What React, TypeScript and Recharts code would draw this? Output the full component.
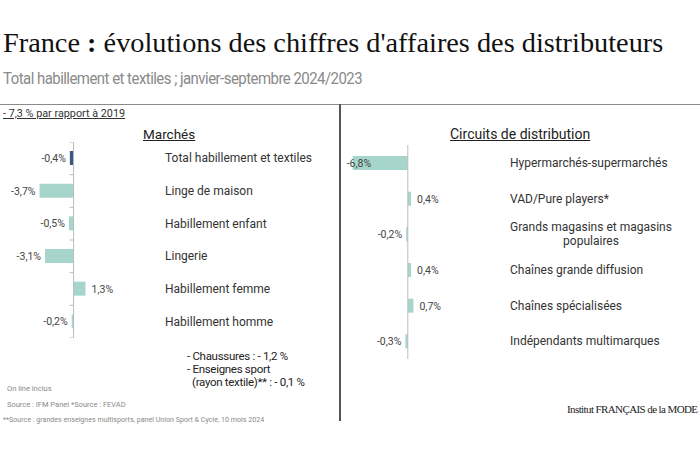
import React from "react";
import { BarChart, Bar, XAxis, YAxis, Cell, LabelList, ReferenceLine } from "recharts";

const marketNames = [
  "Total habillement et textiles",
  "Linge de maison",
  "Habillement enfant",
  "Lingerie",
  "Habillement femme",
  "Habillement homme",
];
const marketValues = [-0.4, -3.7, -0.5, -3.1, 1.3, -0.2];

const channelNames = [
  "Hypermarchés-supermarchés",
  "VAD/Pure players*",
  "Grands magasins et magasins\npopulaires",
  "Chaînes grande diffusion",
  "Chaînes spécialisées",
  "Indépendants multimarques",
];
const channelValues = [-6.8, 0.4, -0.2, 0.4, 0.7, -0.3];

const TEAL = "#a6d6cb";
const NAVY = "#3b5680";
const SANS = "Roboto, 'Noto Sans', sans-serif";

const fmt = (v: number) => `${v.toFixed(1).replace(".", ",")}%`;

const marketData = marketNames.map((name, i) => ({ name, value: marketValues[i] }));
const channelData = channelNames.map((name, i) => ({ name, value: channelValues[i] }));

function CategoryTick({ x, y, payload }: any) {
  const lines = String(payload.value).split("\n");
  if (lines.length > 1) {
    return (
      <text x={x + 78} y={y - 3} textAnchor="middle" fontFamily={SANS} fontSize={12} fill="#333">
        {lines.map((l, i) => (
          <tspan key={i} x={x + 78} dy={i === 0 ? 0 : 14}>{l}</tspan>
        ))}
      </text>
    );
  }
  return (
    <text x={x - 3} y={y + 4} textAnchor="start" fontFamily={SANS} fontSize={12} fill="#333">
      {payload.value}
    </text>
  );
}

function ZeroAxis({ x1, y1, y2, count }: any) {
  const step = count > 0 ? (y2 - y1) / count : 0;
  const ticks = count > 0 ? Array.from({ length: count + 1 }, (_, i) => y1 + i * step) : [];
  return (
    <g>
      <line x1={x1} x2={x1} y1={y1} y2={y2} stroke="#bcbcbc" strokeWidth={1} />
      {ticks.map((t, i) => (
        <line key={i} x1={x1 - 4} x2={x1} y1={t} y2={t} stroke="#bcbcbc" strokeWidth={1} />
      ))}
    </g>
  );
}

function ValueLabel({ x, y, width, height, value }: any) {
  const left = Math.min(x, x + width);
  const right = Math.max(x, x + width);
  const cy = y + height / 2 + 4;
  if (value < -5) {
    return (
      <text x={left - 6} y={cy} textAnchor="start" fontFamily={SANS} fontSize={10.5} fill="#444">
        {fmt(value)}
      </text>
    );
  }
  if (value < 0) {
    return (
      <text x={left - 4} y={cy} textAnchor="end" fontFamily={SANS} fontSize={10.5} fill="#444">
        {fmt(value)}
      </text>
    );
  }
  return (
    <text x={right + 6} y={cy} textAnchor="start" fontFamily={SANS} fontSize={10.5} fill="#444">
      {fmt(value)}
    </text>
  );
}

const abs = (extra: React.CSSProperties): React.CSSProperties => ({
  position: "absolute",
  whiteSpace: "nowrap",
  fontFamily: SANS,
  ...extra,
});

export default function App() {
  return (
    <div style={{ position: "absolute", left: 0, top: 0, width: 700, height: 450, background: "#fff", overflow: "hidden" }}>
      <div style={abs({ left: 3, top: 27, fontFamily: "'Liberation Serif', serif", fontSize: 28.3, color: "#111" })}>
        France <b>:</b> évolutions des chiffres d'affaires des distributeurs
      </div>
      <div
        style={abs({
          left: 3,
          top: 68,
          fontSize: 17,
          color: "#8a8a8a",
          letterSpacing: -0.6,
          transform: "scaleX(0.88)",
          transformOrigin: "left top",
        })}
      >
        Total habillement et textiles ; janvier-septembre 2024/2023
      </div>
      <div style={{ position: "absolute", left: 0, top: 104, width: 700, height: 1, background: "#8a8a8a" }} />
      <div style={{ position: "absolute", left: 339, top: 104, width: 2, height: 317, background: "#555" }} />
      <div style={abs({ left: 3, top: 107, fontSize: 10.8, color: "#333", textDecoration: "underline" })}>
        - 7,3 % par rapport à 2019
      </div>
      <div style={abs({ left: 143, top: 126, fontSize: 13.5, color: "#222", textDecoration: "underline" })}>
        Marchés
      </div>
      <div style={abs({ left: 450, top: 126, fontSize: 14, color: "#222", textDecoration: "underline" })}>
        Circuits de distribution
      </div>

      <div style={{ position: "absolute", left: 0, top: 142 }}>
        <BarChart
          width={330}
          height={196}
          data={marketData}
          layout="vertical"
          margin={{ top: 0, right: 0, bottom: 0, left: 0 }}
          barCategoryGap={0}
        >
          <XAxis type="number" domain={[-8, 9.4]} hide />
          <YAxis
            type="category"
            dataKey="name"
            orientation="right"
            width={170}
            axisLine={false}
            tickLine={false}
            tick={<CategoryTick />}
            interval={0}
          />
          <ReferenceLine x={0} shape={(p: any) => <ZeroAxis {...p} count={marketData.length} />} />
          <Bar dataKey="value" barSize={14} isAnimationActive={false}>
            {marketData.map((d, i) => (
              <Cell key={i} fill={i === 0 ? NAVY : TEAL} />
            ))}
            <LabelList dataKey="value" content={<ValueLabel />} />
          </Bar>
        </BarChart>
      </div>

      <div style={{ position: "absolute", left: 343, top: 145 }}>
        <BarChart
          width={357}
          height={214}
          data={channelData}
          layout="vertical"
          margin={{ top: 0, right: 0, bottom: 0, left: 0 }}
          barCategoryGap={0}
        >
          <XAxis type="number" domain={[-8, 12]} hide />
          <YAxis
            type="category"
            dataKey="name"
            orientation="right"
            width={195}
            axisLine={false}
            tickLine={false}
            tick={<CategoryTick />}
            interval={0}
          />
          <ReferenceLine x={0} shape={(p: any) => <ZeroAxis {...p} count={0} />} />
          <Bar dataKey="value" barSize={14} fill={TEAL} isAnimationActive={false}>
            <LabelList dataKey="value" content={<ValueLabel />} />
          </Bar>
        </BarChart>
      </div>

      <div style={abs({ left: 187, top: 350, fontSize: 11.5, color: "#222", lineHeight: "13px", letterSpacing: -0.3 })}>
        - Chaussures : - 1,2 %
        <br />- Enseignes sport
        <br />
        <span style={{ marginLeft: 5 }}>(rayon textile)** : - 0,1 %</span>
      </div>
      <div style={abs({ left: 7, top: 384, fontSize: 7.5, color: "#8a8a8a" })}>On line inclus</div>
      <div style={abs({ left: 7, top: 400, fontSize: 7.5, color: "#8a8a8a" })}>Source : IFM Panel *Source : FEVAD</div>
      <div style={abs({ left: 3, top: 415, fontSize: 7.1, color: "#8a8a8a" })}>
        **Source : grandes enseignes multisports, panel Union Sport &amp; Cycle, 10 mois 2024
      </div>
      <div
        style={abs({
          left: 567,
          top: 403,
          fontFamily: "'Liberation Serif', serif",
          fontSize: 11,
          color: "#222",
          letterSpacing: -0.6,
        })}
      >
        Institut FRANÇAIS de la MODE
      </div>
    </div>
  );
}
